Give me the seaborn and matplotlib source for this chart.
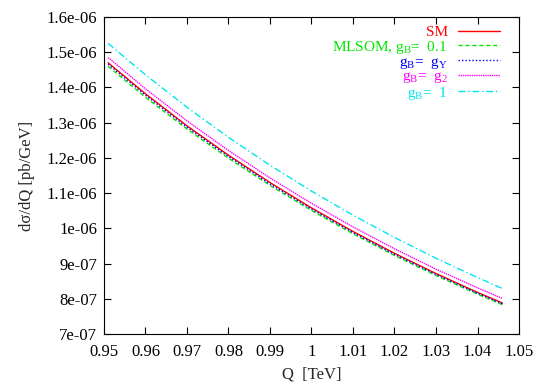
import matplotlib
matplotlib.use("Agg")
import matplotlib.pyplot as plt
import matplotlib.ticker as mticker
import seaborn as sns
import pandas as pd

# values (cross section in pb/GeV)
q = [0.951, 0.96, 0.97, 0.98, 0.99, 1.00, 1.01, 1.02, 1.03, 1.04, 1.046]
sm = [1.470e-6, 1.382e-6, 1.291e-6, 1.2075e-6, 1.130e-6, 1.058e-6,
      0.991e-6, 0.929e-6, 0.8716e-6, 0.818e-6, 0.788e-6]
mlsom_01 = [1.460e-6, 1.372e-6, 1.282e-6, 1.199e-6, 1.122e-6, 1.0505e-6,
            0.9845e-6, 0.923e-6, 0.866e-6, 0.813e-6, 0.7831e-6]
gb_gy = [1.466e-6, 1.378e-6, 1.287e-6, 1.204e-6, 1.126e-6, 1.0545e-6,
         0.988e-6, 0.926e-6, 0.869e-6, 0.8157e-6, 0.7857e-6]
gb_g2 = [1.485e-6, 1.396e-6, 1.305e-6, 1.221e-6, 1.143e-6, 1.071e-6,
         1.004e-6, 0.942e-6, 0.884e-6, 0.831e-6, 0.801e-6]
gb_1 = [1.525e-6, 1.4358e-6, 1.3437e-6, 1.2583e-6, 1.1791e-6, 1.1056e-6,
        1.0375e-6, 0.974e-6, 0.915e-6, 0.8603e-6, 0.8291e-6]

labels = ["SM", r"MLSOM, $\mathrm{g_B}$=  0.1", r"$\mathrm{g_B}$=  $\mathrm{g_Y}$",
          r"$\mathrm{g_B}$=  $\mathrm{g_2}$", r"$\mathrm{g_B}$=  1"]
series = [sm, mlsom_01, gb_gy, gb_g2, gb_1]
colors = ["#ff0000", "#00e600", "#0000ff", "#ff00ff", "#00e5ee"]
styles = ["-", (0, (3, 2)), (0, (1, 1.5)), (0, (1, 0.6)), (0, (5, 2, 1, 2))]

sns.set_style("ticks")
plt.rcParams["font.family"] = ["Liberation Serif", "DejaVu Serif"]
plt.rcParams["mathtext.fontset"] = "custom"
plt.rcParams["mathtext.rm"] = "Liberation Serif"
plt.rcParams["mathtext.it"] = "Liberation Serif:italic"

fig = plt.figure(figsize=(5.45, 3.82), dpi=100)
ax = fig.add_axes([0.1908, 0.1257, 0.7615, 0.8298])

for lab, ys, c, ls in zip(labels, series, colors, styles):
    df = pd.DataFrame({"Q": q, "y": ys})
    sns.lineplot(data=df, x="Q", y="y", ax=ax, color=c, linestyle=ls,
                 linewidth=1.0, label=lab)

ax.set_xlim(0.95, 1.05)
ax.set_ylim(7e-7, 1.6e-6)
ax.xaxis.set_major_locator(mticker.MultipleLocator(0.01))
ax.yaxis.set_major_locator(mticker.MultipleLocator(1e-7))
fmt = mticker.FuncFormatter(lambda v, p: f"{v:g}")
ax.xaxis.set_major_formatter(fmt)
ax.yaxis.set_major_formatter(fmt)
ax.tick_params(direction="in", length=5, width=0.8, top=True, right=True,
               labelsize=12, pad=5, colors="black")
ax.tick_params(axis="x", pad=7)
for s in ax.spines.values():
    s.set_color("black")
    s.set_linewidth(0.8)

ax.set_xlabel("Q  [TeV]", fontsize=12, labelpad=5)
ax.set_ylabel("dσ/dQ [pb/GeV]", fontsize=12, labelpad=8)

leg = ax.legend(loc="upper right", frameon=False, markerfirst=False,
                labelcolor="linecolor", fontsize=11, handlelength=2.7,
                handletextpad=0.7, labelspacing=-0.05,
                borderaxespad=0.0, bbox_to_anchor=(0.968, 0.992))

fig.savefig("out.png", dpi=100)
